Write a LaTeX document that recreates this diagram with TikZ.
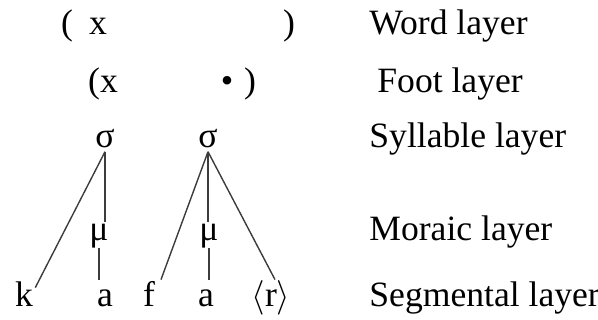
\documentclass[tikz,border=0pt]{standalone}
\usepackage{fontspec}
\setmainfont{Liberation Serif}
\definecolor{linegray}{RGB}{60, 60, 60}
\usetikzlibrary{positioning}

\begin{document}
\begin{tikzpicture}[
        x=0.5pt, y=-0.5pt,
        every node/.style={inner sep=1pt, anchor=base, font=\fontsize{17.8}{20}\selectfont},
        layer/.style={anchor=base west},
        seg/.style={text height=12pt, text depth=0pt},
        tie/.style={draw=linegray, line width=0.7pt}
      ]
        \useasboundingbox (0,0) rectangle (598,320);
        \node (wopen) at (67,35) {(};
        \node (wx) at (98,35) {x};
        \node (wclose) at (289,35) {)};
        \node (fopen) at (103,93) {(x};
        \node (fdot) at (227,93) {•};
        \node (fclose) at (250,93) {)};
        \node[inner sep=1.5pt] (syl1) at (105,148) {σ};
        \node[inner sep=1.5pt] (syl2) at (208,148) {σ};
        \node[text height=8pt, text depth=3pt] (mu1) at (99,240) {μ};
        \node[text height=8pt, text depth=3pt] (mu2) at (209,240) {μ};
        \node[seg] (k) at (24,306) {k};
        \node[seg] (a1) at (105,306) {a};
        \node[seg] (f) at (149,306) {f};
        \node[seg] (a2) at (206,306) {a};
        \node[seg] (r) at (271,306) {$\langle$r$\rangle$};
        \node[layer] (word) at (367,35) {Word layer};
        \node[layer] (foot) at (375,93) {Foot layer};
        \node[layer] (syllable) at (367,148) {Syllable layer};
        \node[layer] (moraic) at (367,240) {Moraic layer};
        \node[layer] (segmental) at (367,306) {Segmental layer};
        \draw[tie] (syl1.south) -- ([yshift=-4pt]k.north east);
        \draw[tie] (syl1.south) -- (syl1.south |- mu1.north);
        \draw[tie] (mu1.south) -- (mu1.south |- a1.north);
        \draw[tie] (syl2.south) -- ([xshift=6pt]f.north);
        \draw[tie] (syl2.south) -- (syl2.south |- mu2.north);
        \draw[tie] (mu2.south) -- (mu2.south |- a2.north);
        \draw[tie] (syl2.south) -- ([xshift=2pt]r.north);
      \end{tikzpicture}
\end{document}
